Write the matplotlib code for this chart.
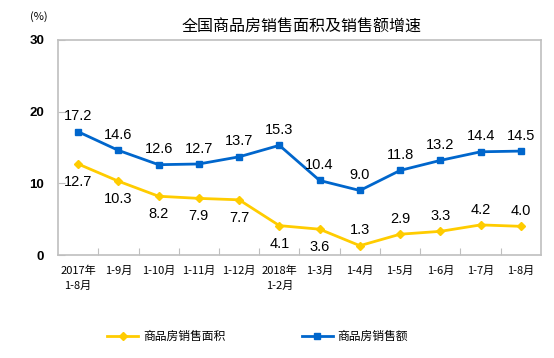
import matplotlib
matplotlib.use('Agg')
import matplotlib.pyplot as plt

plt.rcParams['font.family'] = ['Noto Sans CJK SC', 'DejaVu Sans']

months = ['2017年\n1-8月', '1-9月', '1-10月', '1-11月', '1-12月', '2018年\n1-2月',
          '1-3月', '1-4月', '1-5月', '1-6月', '1-7月', '1-8月']
area_growth = [12.7, 10.3, 8.2, 7.9, 7.7, 4.1, 3.6, 1.3, 2.9, 3.3, 4.2, 4.0]
sales_growth = [17.2, 14.6, 12.6, 12.7, 13.7, 15.3, 10.4, 9.0, 11.8, 13.2, 14.4, 14.5]
area_label_below = [True, True, True, True, True, True, True, False, False, False, False, False]

YELLOW = '#FFCC00'
BLUE = '#0066CC'
GRAY = '#BFBFBF'
NUM_FONT = 'Liberation Sans'

fig = plt.figure(figsize=(5.54, 3.58), dpi=100)
ax = fig.add_axes([0.1047, 0.2877, 0.8718, 0.6006])
x = list(range(len(months)))

ax.plot(x, area_growth, color=YELLOW, lw=2.0, marker='D', ms=4.5, label='商品房销售面积')
ax.plot(x, sales_growth, color=BLUE, lw=2.0, marker='s', ms=4.5, label='商品房销售额')

for xi, v, below in zip(x, area_growth, area_label_below):
    ax.annotate(f'{v:.1f}', (xi, v), xytext=(0, -8 if below else 6), textcoords='offset points',
                ha='center', va='top' if below else 'bottom', fontsize=10.5, family=NUM_FONT)
for xi, v in zip(x, sales_growth):
    ax.annotate(f'{v:.1f}', (xi, v), xytext=(0, 6), textcoords='offset points',
                ha='center', va='bottom', fontsize=10.5, family=NUM_FONT)

ax.set_xlim(-0.5, len(months) - 0.5)
ax.set_ylim(0, 30)
ax.set_yticks([0, 10, 20, 30])
ax.set_yticklabels(['0', '10', '20', '30'], fontsize=9.5, family=NUM_FONT, fontweight='bold')
ax.set_xticks([i + 0.5 for i in range(len(months) - 1)])
ax.set_xticklabels([])
ax.set_xticks(x, minor=True)
ax.set_xticklabels(months, minor=True, fontsize=8, linespacing=1.6)
ax.tick_params(axis='x', which='major', direction='in', length=5, color=GRAY)
ax.tick_params(axis='x', which='minor', length=0, pad=8)
ax.tick_params(axis='y', direction='in', length=5, color=GRAY, pad=10)
for s in ax.spines.values():
    s.set_color(GRAY)
    s.set_linewidth(1.2)

fig.text(0.055, 0.955, '(%)', fontsize=8, ha='left', va='center')
fig.text(0.545, 0.925, '全国商品房销售面积及销售额增速', fontsize=11.5, ha='center', va='center')

leg = fig.legend(loc='center', bbox_to_anchor=(0.465, 0.06), ncol=2, frameon=False,
                 fontsize=8.5, columnspacing=6.5, handlelength=2.6, handletextpad=0.4)

fig.savefig('out.png', dpi=100)
